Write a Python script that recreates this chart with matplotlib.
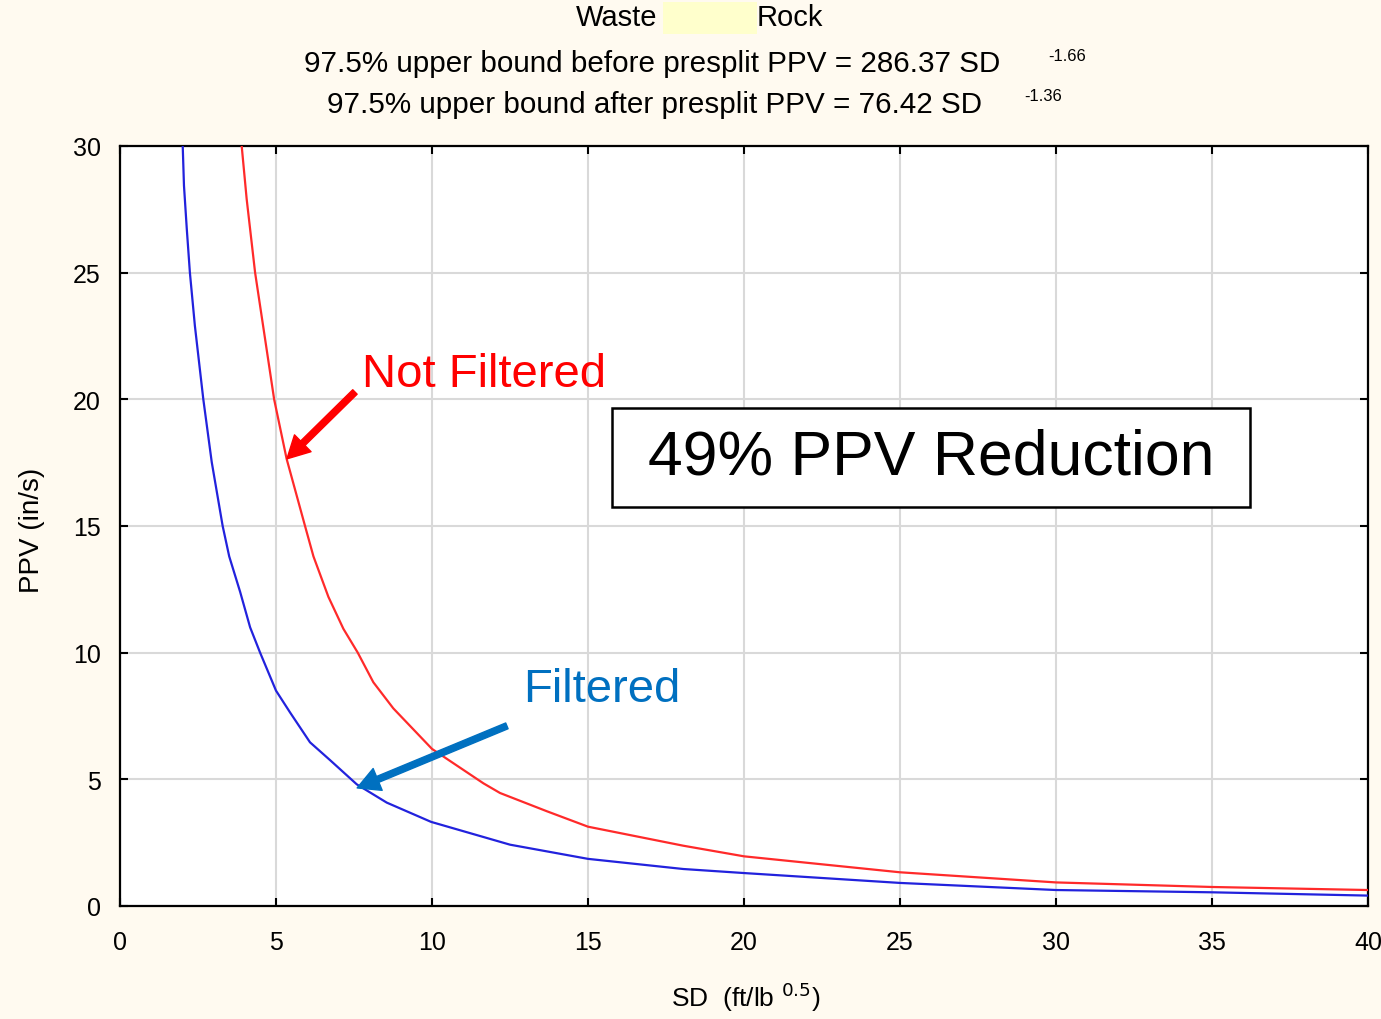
import matplotlib
matplotlib.use("Agg")
import matplotlib.pyplot as plt
from matplotlib.patches import Rectangle

plt.rcParams['font.family'] = ['Liberation Sans', 'DejaVu Sans']

# values (SD, PPV)
sd_red = [3.90, 4.06, 4.33, 4.65, 4.94, 5.34, 5.93, 6.2, 6.68, 7.16, 7.62, 8.12, 8.76, 10.0, 11.65, 12.18,
          13.68, 15.0, 18.05, 20.0, 25.0, 30.0, 35.0, 40.0]
ppv_red = [30.0, 27.9, 25.0, 22.38, 20.0, 17.65, 15.0, 13.8, 12.2, 10.94, 10.0, 8.83, 7.8, 6.2, 4.84, 4.46,
           3.74, 3.13, 2.38, 1.96, 1.33, 0.93, 0.75, 0.63]

sd_blue = [2.01, 2.05, 2.14, 2.24, 2.40, 2.67, 2.94, 3.29, 3.5, 3.85, 4.17, 4.49, 5.0, 5.45, 6.09, 6.73, 7.59,
           8.55, 9.97, 12.5, 15.0, 18.05, 20.0, 25.0, 30.0, 35.0, 40.0]
ppv_blue = [30.0, 28.44, 26.73, 25.0, 22.9, 20.0, 17.52, 15.0, 13.8, 12.4, 11.0, 10.0, 8.5, 7.64, 6.46, 5.76, 4.80,
            4.08, 3.32, 2.42, 1.86, 1.46, 1.30, 0.91, 0.63, 0.54, 0.41]

x_ticks = [0, 5, 10, 15, 20, 25, 30, 35, 40]
y_ticks = [0, 5, 10, 15, 20, 25, 30]

bg = '#FFFAF0'
fig = plt.figure(figsize=(13.81, 10.20), dpi=100, facecolor=bg)
ax = fig.add_axes([0.0869, 0.1108, 0.9037, 0.7451])

ax.grid(True, color='#d9d9d9', lw=1.5, zorder=0)
ax.plot(sd_red, ppv_red, color='#ff2a2a', lw=1.6, zorder=3)
ax.plot(sd_blue, ppv_blue, color='#2222dd', lw=1.6, zorder=3)

ax.set_xlim(0, 40)
ax.set_ylim(0, 30)
ax.set_xticks(x_ticks)
ax.set_yticks(y_ticks)
ax.tick_params(direction='in', length=6, width=1.5, top=True, right=True, labelsize=18, colors='black')
ax.tick_params(axis='x', pad=17)
ax.tick_params(axis='y', pad=14)
for s in ax.spines.values():
    s.set_linewidth(1.6)

fig.text(0.023, 0.48, 'PPV (in/s)', rotation=90, ha='center', va='center', fontsize=20)
fig.text(0.54, 0.022, r'SD  (ft/lb $^{0.5}$)', ha='center', va='center', fontsize=19)

# title block
fig.patches.append(Rectangle((0.480, 0.966), 0.068, 0.031, transform=fig.transFigure,
                             facecolor='#FFFFCC', edgecolor='none'))
fig.text(0.476, 0.982, 'Waste', ha='right', va='center', fontsize=21)
fig.text(0.548, 0.982, 'Rock', ha='left', va='center', fontsize=21)
fig.text(0.724, 0.937, '97.5% upper bound before presplit PPV = 286.37 SD', ha='right', va='center', fontsize=21.3)
fig.text(0.759, 0.945, '-1.66', ha='left', va='center', fontsize=12)
fig.text(0.711, 0.897, '97.5% upper bound after presplit PPV = 76.42 SD', ha='right', va='center', fontsize=21.3)
fig.text(0.742, 0.905, '-1.36', ha='left', va='center', fontsize=12)

# annotations
ax.text(7.76, 21.0, 'Not Filtered', color='#ff0000', fontsize=34, ha='left', va='center', zorder=5)
ax.annotate('', xy=(5.35, 17.65), xytext=(7.53, 20.29),
            arrowprops=dict(color='#ff0000', width=4.5, headwidth=17, headlength=16, shrink=0), zorder=5)
ax.text(12.92, 8.57, 'Filtered', color='#0070C0', fontsize=34, ha='left', va='center', zorder=5)
ax.annotate('', xy=(7.60, 4.66), xytext=(12.40, 7.11),
            arrowprops=dict(color='#0070C0', width=4.5, headwidth=17, headlength=16, shrink=0), zorder=5)

ax.add_patch(Rectangle((15.77, 15.75), 20.45, 3.91, facecolor='white', edgecolor='black', lw=1.8, zorder=4))
ax.text(26.0, 17.73, '49% PPV Reduction', fontsize=45, ha='center', va='center', zorder=5)

fig.savefig('out.png', dpi=100, facecolor=bg)
